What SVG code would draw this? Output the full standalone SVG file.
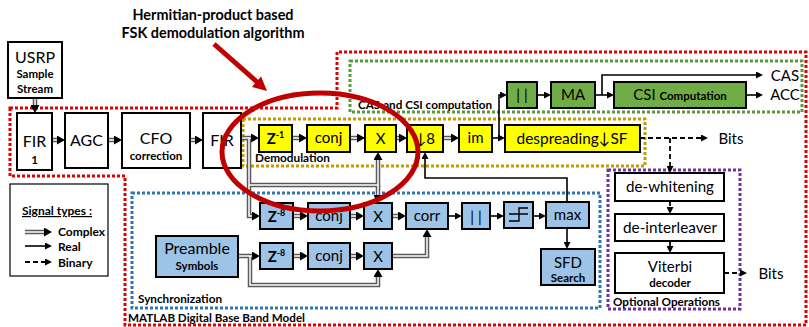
<svg xmlns="http://www.w3.org/2000/svg" width="809" height="327" viewBox="0 0 809 327">
<defs>
<style>
.t{font-family:Lato,"Open Sans","Liberation Sans",sans-serif;fill:#000;text-anchor:middle}
.s{font-size:15px}
.m{font-size:16px}
.sb{font-size:11.5px;font-weight:bold}
.lb{font-family:Lato,"Open Sans","Liberation Sans",sans-serif;font-size:12px;font-weight:bold;fill:#000}
.bx{stroke:#000;stroke-width:2}
.y{fill:#ffff00}
.b{fill:#9dc3e6}
.g{fill:#70ad47}
.w{fill:#fff}
.cxo path{fill:none;stroke:#5a5a5a;stroke-width:4.5;marker-end:url(#ac)}
.cxi path{fill:none;stroke:#fff;stroke-width:1.5}
.re path{fill:none;stroke:#000;stroke-width:1.6;marker-end:url(#ar)}
.bi path{fill:none;stroke:#000;stroke-width:1.8;stroke-dasharray:5 3;marker-end:url(#ar)}
.reg{fill:none;stroke-width:3;stroke-dasharray:3 2}
</style>
<marker id="ac" markerUnits="userSpaceOnUse" markerWidth="8" markerHeight="9" refX="0" refY="4.5" orient="auto"><path d="M0,0 L8,4.5 L0,9 z" fill="#000"/></marker>
<marker id="ar" markerUnits="userSpaceOnUse" markerWidth="7" markerHeight="7" refX="0" refY="3.5" orient="auto"><path d="M0,0 L7,3.5 L0,7 z" fill="#000"/></marker>
</defs>
<rect width="809" height="327" fill="#fff"/>

<!-- regions -->
<g id="regions">
<path class="reg" stroke="#e00000" d="M10,108 H337 V52 H806 V325 H125 V176 H10 Z"/>
<rect class="reg" stroke="#5b9a3b" x="350" y="61" width="452" height="51"/>
<rect class="reg" stroke="#c49a00" x="243" y="119" width="402" height="47"/>
<rect class="reg" stroke="#2e75b6" x="132" y="193" width="468" height="115"/>
<rect class="reg" stroke="#7030a0" x="608" y="170" width="132" height="139"/>
<text class="lb" x="358" y="109" textLength="134" lengthAdjust="spacingAndGlyphs">CAS and CSI computation</text>
<text class="lb" x="255" y="162" textLength="75" lengthAdjust="spacingAndGlyphs">Demodulation</text>
<text class="lb" x="138" y="303" textLength="84" lengthAdjust="spacingAndGlyphs">Synchronization</text>
<text class="lb" x="613" y="306" textLength="107" lengthAdjust="spacingAndGlyphs">Optional Operations</text>
<text class="lb" x="128" y="322" textLength="177" lengthAdjust="spacingAndGlyphs">MATLAB Digital Base Band Model</text>
</g>

<!-- legend box (drawn beneath its arrows) -->
<g id="legend"><rect x="10" y="184" width="98" height="92" fill="#fff" stroke="#000" stroke-width="1.2"/>
<text class="lb" x="22" y="215" text-decoration="underline" textLength="70" lengthAdjust="spacingAndGlyphs">Signal types :</text>
<text class="lb" x="58" y="236" font-size="12.5">Complex</text>
<text class="lb" x="58" y="251" font-size="12.5">Real</text>
<text class="lb" x="58" y="267" font-size="12.5">Binary</text></g>

<!-- connectors -->
<g id="connectors">
<g class="cxo">
<path d="M35,98 V105"/>
<path d="M52,140 H57"/>
<path d="M108,140 H114"/>
<path d="M190,140 H195"/>
<path d="M241,138 H251"/>
<path d="M249,138 V216 H252"/>
<path d="M249,185 H378 V160"/>
<path d="M378,185 V195"/>
<path d="M292,138 H299"/>
<path d="M350,138 H357"/>
<path d="M396,138 H399"/>
<path d="M443,138 H451"/>
<path d="M293,216 H300"/>
<path d="M350,216 H356"/>
<path d="M392,216 H398"/>
<path d="M238,256 H252"/>
<path d="M250,256 V285 H378 V277"/>
<path d="M293,256 H300"/>
<path d="M350,256 H356"/>
<path d="M392,256 H427 V237"/>
<path d="M25,232 H44"/>
</g>
<g class="cxi">
<path d="M35,98 V105"/>
<path d="M52,140 H57"/>
<path d="M108,140 H114"/>
<path d="M190,140 H195"/>
<path d="M241,138 H251"/>
<path d="M249,138 V216 H252"/>
<path d="M249,185 H378 V160"/>
<path d="M378,185 V195"/>
<path d="M292,138 H299"/>
<path d="M350,138 H357"/>
<path d="M396,138 H399"/>
<path d="M443,138 H451"/>
<path d="M293,216 H300"/>
<path d="M350,216 H356"/>
<path d="M392,216 H398"/>
<path d="M238,256 H252"/>
<path d="M250,256 V285 H378 V277"/>
<path d="M293,256 H300"/>
<path d="M350,256 H356"/>
<path d="M392,256 H427 V237"/>
<path d="M25,232 H44"/>
</g>
<g class="re">
<path d="M492,138 H498"/>
<path d="M499,138 V95 H500"/>
<path d="M537,95 H544"/>
<path d="M595,95 H607"/>
<path d="M602,95 V75 H756"/>
<path d="M746,95 H756"/>
<path d="M448,216 H455"/>
<path d="M490,216 H497"/>
<path d="M533,216 H539"/>
<path d="M567,228 V242"/>
<path d="M567,202 V178 H425 V159"/>
<path d="M25,246 H45"/>
</g>
<g class="bi">
<path d="M640,138 H701"/>
<path d="M670,138 V166"/>
<path d="M670,201 V207"/>
<path d="M670,241 V246"/>
<path d="M724,273 H740"/>
<path d="M25,262 H45"/>
</g>
</g>

<!-- nodes -->
<g id="usrp"><rect class="bx w" x="8" y="42" width="54" height="56"/>
<text class="t" x="35" y="63" font-size="16">USRP</text>
<text class="t sb" x="35" y="78">Sample</text>
<text class="t sb" x="35" y="93">Stream</text></g>

<g id="fir1"><rect class="bx w" x="17" y="113" width="35" height="57"/>
<text class="t m" x="34.5" y="147">FIR</text>
<text class="t sb" x="34.5" y="164">1</text></g>
<g id="agc"><rect class="bx w" x="65" y="113" width="43" height="55"/>
<text class="t m" x="86.5" y="146">AGC</text></g>
<g id="cfo"><rect class="bx w" x="122" y="113" width="68" height="55"/>
<text class="t m" x="156" y="144">CFO</text>
<text class="t sb" x="156" y="160">correction</text></g>
<g id="fir2"><rect class="bx w" x="203" y="113" width="38" height="55"/>
<text class="t m" x="222" y="146">FIR</text></g>

<g id="z1"><rect class="bx y" x="259" y="125" width="33" height="27"/>
<text class="t" x="275.5" y="144" font-size="15" font-weight="bold">Z<tspan font-size="9" dy="-6">-1</tspan></text></g>
<g id="conj1"><rect class="bx y" x="307" y="125" width="43" height="27"/>
<text class="t s" x="328.5" y="143">conj</text></g>
<g id="x1"><rect class="bx y" x="365" y="125" width="31" height="27"/>
<text class="t s" x="380.5" y="144">X</text></g>
<g id="down8"><rect class="bx y" x="407" y="125" width="36" height="27"/>
<text class="t s" x="425" y="144">↓8</text></g>
<g id="im"><rect class="bx y" x="459" y="125" width="33" height="27"/>
<text class="t s" x="475.5" y="143">im</text></g>
<g id="desp"><rect class="bx y" x="505" y="125" width="135" height="27"/>
<text class="t m" x="572" y="144" textLength="111" lengthAdjust="spacingAndGlyphs">despreading↓SF</text></g>

<g id="abs1"><rect class="bx g" x="507" y="82" width="30" height="26"/>
<text class="t s" x="522" y="100">| |</text></g>
<g id="ma"><rect class="bx g" x="551" y="82" width="44" height="26"/>
<text class="t s" x="573" y="100">MA</text></g>
<g id="csi"><rect class="bx g" x="614" y="82" width="132" height="26"/>
<text class="t s" x="680" y="100">CSI <tspan font-size="11.5" font-weight="bold">Computation</tspan></text></g>
<text class="t s" x="785" y="81">CAS</text>
<text class="t s" x="785" y="100">ACC</text>
<text class="t s" x="731" y="144">Bits</text>
<text class="t s" x="771" y="279">Bits</text>

<g id="dewhite"><rect class="bx w" x="615" y="173" width="109" height="28"/>
<text class="t s" x="670" y="192" textLength="88" lengthAdjust="spacingAndGlyphs">de-whitening</text></g>
<g id="deint"><rect class="bx w" x="615" y="214" width="109" height="27"/>
<text class="t s" x="670" y="233" textLength="94" lengthAdjust="spacingAndGlyphs">de-interleaver</text></g>
<g id="viterbi"><rect class="bx w" x="615" y="253" width="109" height="40"/>
<text class="t s" x="670" y="272">Viterbi</text>
<text class="t sb" x="670" y="287">decoder</text></g>

<g id="z8a"><rect class="bx b" x="260" y="203" width="33" height="26"/>
<text class="t" x="276.5" y="222" font-size="15" font-weight="bold">Z<tspan font-size="9" dy="-6">-8</tspan></text></g>
<g id="conj2"><rect class="bx b" x="308" y="203" width="42" height="26"/>
<text class="t s" x="329" y="221">conj</text></g>
<g id="x2"><rect class="bx b" x="364" y="203" width="28" height="26"/>
<text class="t s" x="378" y="222">X</text></g>
<g id="corr"><rect class="bx b" x="406" y="203" width="42" height="26"/>
<text class="t s" x="427" y="221">corr</text></g>
<g id="abs2"><rect class="bx b" x="462" y="203" width="28" height="26"/>
<text class="t s" x="476" y="222">| |</text></g>
<g id="step"><rect class="bx b" x="504" y="202" width="29" height="26"/>
<path d="M509,221 H519 V208 H528 M509,214 H528" fill="none" stroke="#000" stroke-width="1.4"/></g>
<g id="max"><rect class="bx b" x="546" y="202" width="43" height="26"/>
<text class="t s" x="567.5" y="220">max</text></g>
<g id="sfd"><rect class="bx b" x="541" y="249" width="54" height="36"/>
<text class="t s" x="568" y="268">SFD</text>
<text class="t sb" x="568" y="282">Search</text></g>

<g id="preamble"><rect class="bx b" x="156" y="236" width="82" height="41"/>
<text class="t m" x="197" y="254">Preamble</text>
<text class="t sb" x="197" y="270">Symbols</text></g>
<g id="z8b"><rect class="bx b" x="260" y="243" width="33" height="26"/>
<text class="t" x="276.5" y="262" font-size="15" font-weight="bold">Z<tspan font-size="9" dy="-6">-8</tspan></text></g>
<g id="conj3"><rect class="bx b" x="308" y="243" width="42" height="26"/>
<text class="t s" x="329" y="261">conj</text></g>
<g id="x3"><rect class="bx b" x="364" y="243" width="28" height="26"/>
<text class="t s" x="378" y="262">X</text></g>

<g id="annotation">
<ellipse cx="320" cy="152" rx="98" ry="59" fill="none" stroke="#c00000" stroke-width="5"/>
<line x1="214" y1="44" x2="257" y2="82" stroke="#c00000" stroke-width="5"/>
<polygon points="267,91 251.9,86.9 261.1,76.5" fill="#c00000"/>
<text class="t" x="213" y="20" font-size="16" font-weight="bold" textLength="161" lengthAdjust="spacingAndGlyphs">Hermitian-product based</text>
<text class="t" x="213" y="38" font-size="16" font-weight="bold" textLength="183" lengthAdjust="spacingAndGlyphs">FSK demodulation algorithm</text>
</g>
</svg>
